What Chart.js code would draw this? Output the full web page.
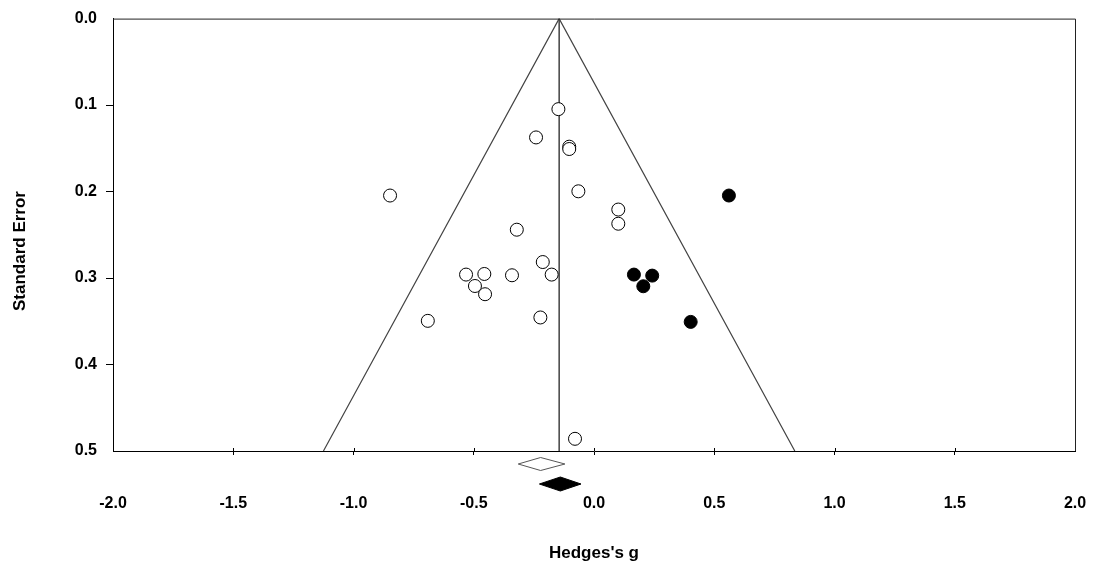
<!DOCTYPE html>
<html>
<head>
<meta charset="utf-8">
<script src="https://cdn.jsdelivr.net/npm/chart.js@4.4.1/dist/chart.umd.min.js"></script>
<style>
html,body{margin:0;padding:0;background:#fff;}
canvas{display:block;}
</style>
</head>
<body>
<canvas id="c" width="1098" height="569"></canvas>
<script>
// ---- data ----
const xTicks = [-2.0, -1.5, -1.0, -0.5, 0.0, 0.5, 1.0, 1.5, 2.0];
const yTicks = [0.0, 0.1, 0.2, 0.3, 0.4, 0.5];

// observed studies (open circles)
const observedG  = [-0.148, -0.241, -0.103, -0.103, -0.848, -0.065, 0.101, 0.101, -0.321, -0.213,
                    -0.532, -0.456, -0.341, -0.176, -0.495, -0.453, -0.691, -0.223, -0.079];
const observedSE = [0.1047, 0.1374, 0.1481, 0.1508, 0.2046, 0.1997, 0.2208, 0.2372, 0.2441, 0.2815,
                    0.2960, 0.2953, 0.2968, 0.2960, 0.3092, 0.3187, 0.3495, 0.3456, 0.4859];

// imputed studies (filled circles)
const imputedG  = [0.561, 0.166, 0.242, 0.205, 0.402];
const imputedSE = [0.2046, 0.2960, 0.2972, 0.3095, 0.3507];

// funnel & mean line
const funnelG  = [-1.125, -0.145, 0.835];
const funnelSE = [0.5, 0.0, 0.5];
const meanLineG  = [-0.145, -0.145];
const meanLineSE = [0.0, 0.5];

// summary diamonds: [lower, point, upper]
const observedDiamond = [-0.315, -0.222, -0.121];
const adjustedDiamond = [-0.227, -0.140, -0.054];

const toXY = (xs, ys) => xs.map((x, i) => ({x: x, y: ys[i]}));

const FONT = "'Liberation Sans', Arial, sans-serif";

const framePlugin = {
  id: 'frame',
  afterDatasetsDraw(chart) {
    const ctx = chart.ctx, a = chart.chartArea;
    const xs = chart.scales.x;
    ctx.save();
    // top & right frame
    ctx.strokeStyle = '#222';
    ctx.lineWidth = 1;
    ctx.beginPath();
    ctx.moveTo(a.left, a.top + 0.5);
    ctx.lineTo(a.right + 0.5, a.top + 0.5);
    ctx.lineTo(a.right + 0.5, a.bottom);
    ctx.stroke();
    // inward part of x tick marks
    ctx.strokeStyle = '#000';
    xTicks.slice(1, -1).forEach(v => {
      const px = Math.round(xs.getPixelForValue(v)) + 0.5;
      ctx.beginPath();
      ctx.moveTo(px, a.bottom);
      ctx.lineTo(px, a.bottom - 3);
      ctx.stroke();
    });
    // diamonds
    const drawDiamond = (d, cy, halfH, fill) => {
      const l = xs.getPixelForValue(d[0]);
      const m = xs.getPixelForValue(d[1]);
      const r = xs.getPixelForValue(d[2]);
      ctx.beginPath();
      ctx.moveTo(l, cy);
      ctx.lineTo(m, cy - halfH);
      ctx.lineTo(r, cy);
      ctx.lineTo(m, cy + halfH);
      ctx.closePath();
      ctx.fillStyle = fill;
      ctx.fill();
      ctx.strokeStyle = fill === '#000' ? '#000' : '#555';
      ctx.lineWidth = 1;
      ctx.stroke();
    };
    drawDiamond(observedDiamond, a.bottom + 13, 6.5, '#fff');
    drawDiamond(adjustedDiamond, a.bottom + 33, 7, '#000');
    // axis titles
    ctx.fillStyle = '#000';
    ctx.font = 'bold 17px ' + FONT;
    ctx.textAlign = 'center';
    ctx.textBaseline = 'middle';
    ctx.fillText("Hedges's g", (a.left + a.right) / 2, 553);
    ctx.translate(20, 251);
    ctx.rotate(-Math.PI / 2);
    ctx.fillText('Standard Error', 0, 0);
    ctx.restore();
  }
};

new Chart(document.getElementById('c'), {
  type: 'scatter',
  data: {
    datasets: [
      {
        type: 'line', data: toXY(funnelG, funnelSE), borderColor: '#444', borderWidth: 1.2,
        pointRadius: 0, fill: false, tension: 0, order: 3
      },
      {
        type: 'line', data: toXY(meanLineG, meanLineSE), borderColor: '#111', borderWidth: 1.2,
        pointRadius: 0, fill: false, order: 3
      },
      {
        data: toXY(observedG, observedSE), pointRadius: 6.5, pointBackgroundColor: '#fff',
        pointBorderColor: '#000', pointBorderWidth: 1, order: 1
      },
      {
        data: toXY(imputedG, imputedSE), pointRadius: 6.5, pointBackgroundColor: '#000',
        pointBorderColor: '#000', pointBorderWidth: 1, order: 1
      }
    ]
  },
  options: {
    responsive: false,
    animation: false,
    layout: { padding: { left: 0, right: 23, top: 17, bottom: 0 } },
    plugins: { legend: { display: false }, tooltip: { enabled: false } },
    scales: {
      x: {
        type: 'linear', min: -2, max: 2,
        afterBuildTicks: s => { s.ticks = xTicks.map(v => ({value: v})); },
        afterFit: s => { s.height = 118; s.paddingLeft = 0; s.paddingRight = 0; },
        grid: {
          drawOnChartArea: false, drawTicks: true, tickLength: 4,
          tickColor: c => (c.index === 0 || c.index === xTicks.length - 1) ? 'rgba(0,0,0,0)' : '#000'
        },
        border: { display: true, color: '#000', width: 1 },
        ticks: {
          padding: 39, color: '#000', maxRotation: 0,
          font: { family: FONT, size: 16, weight: 'bold' },
          callback: v => Number(v).toFixed(1)
        }
      },
      y: {
        type: 'linear', min: 0, max: 0.5, reverse: true,
        afterBuildTicks: s => { s.ticks = yTicks.map(v => ({value: v})); },
        afterFit: s => { s.width = 113; },
        grid: {
          drawOnChartArea: false, drawTicks: true, tickLength: 7,
          tickColor: c => (c.index === 0 || c.index === yTicks.length - 1) ? 'rgba(0,0,0,0)' : '#000'
        },
        border: { display: true, color: '#000', width: 1 },
        ticks: {
          padding: 9, color: '#000',
          font: { family: FONT, size: 16, weight: 'bold' },
          callback: v => Number(v).toFixed(1)
        }
      }
    }
  },
  plugins: [framePlugin]
});
</script>
</body>
</html>
